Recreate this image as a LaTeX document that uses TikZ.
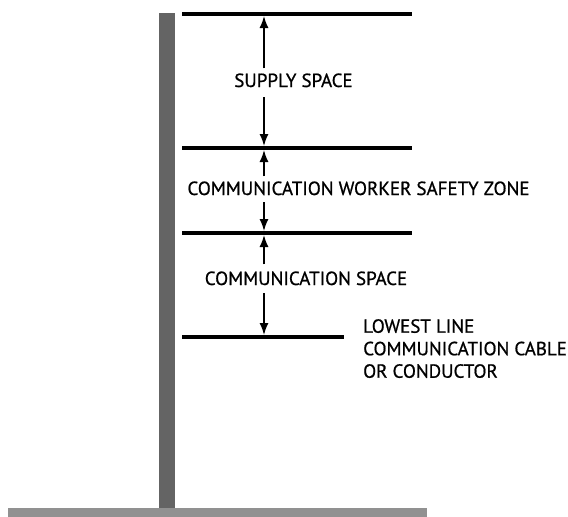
\documentclass[tikz,border=0pt]{standalone}
\usepackage{fontspec}
\setmainfont{PT Sans}[FakeBold=0.8]
\usetikzlibrary{arrows.meta, positioning}

\definecolor{polegray}{RGB}{100,100,100}
\definecolor{groundgray}{RGB}{145,145,145}

\begin{document}
\begin{tikzpicture}[%
        x = 1pt, y = -1pt,
        > = {Latex[length=12pt, width=9pt]},
        wire/.style = {line width=4pt},
        dim/.style = {->, line width=1.5pt},
        zone/.style = {font=\fontsize{19}{22.5}\selectfont, inner sep=0pt, anchor=base}
    ]
        \useasboundingbox (0,0) rectangle (568,517);

        % Pole and ground.
        \fill[polegray] (159,13) rectangle (175,510);
        \fill[groundgray] (8,508) rectangle (427,517);

        % End points of the wires.
        \coordinate (w1l) at (182,14);
        \coordinate (w1r) at (412,14);
        \coordinate (w2l) at (182,148);
        \coordinate (w2r) at (412,148);
        \coordinate (w3l) at (182,233);
        \coordinate (w3r) at (412,233);
        \coordinate (w4l) at (182,337);
        \coordinate (w4r) at (344,337);

        % Points where the dimension arrows meet the wires.
        \coordinate (d1) at (264,14);
        \coordinate (d2) at (264,148);
        \coordinate (d3) at (264,233);
        \coordinate (d4) at (264,337);

        % Draw the wires.
        \draw[wire] (w1l) -- (w1r);
        \draw[wire] (w2l) -- (w2r);
        \draw[wire] (w3l) -- (w3r);
        \draw[wire] (w4l) -- (w4r);

        % Zone labels.
        \node[zone] (supply) at (293.5,87) {SUPPLY SPACE};
        \node[zone] (safety) at (358.5,195) {COMMUNICATION WORKER SAFETY ZONE};
        \node[zone] (comm) at (306,285) {COMMUNICATION SPACE};
        \node[zone, anchor=north west, align=left]
            (lowest) at (363,319) {LOWEST LINE\\COMMUNICATION CABLE\\OR CONDUCTOR};

        % Dimension arrows.
        \draw[dim] ([yshift=5pt]supply.north -| d1) -- ([yshift=-2pt]d1);
        \draw[dim] ([yshift=-10pt]supply.south -| d1) -- ([yshift=2pt]d2);
        \draw[dim] ([yshift=5pt]safety.north -| d2) -- ([yshift=-2pt]d2);
        \draw[dim] ([yshift=-7pt]safety.south -| d2) -- ([yshift=2pt]d3);
        \draw[dim] ([yshift=7pt]comm.north -| d3) -- ([yshift=-2pt]d3);
        \draw[dim] ([yshift=-8pt]comm.south -| d3) -- ([yshift=2pt]d4);
    \end{tikzpicture}
\end{document}
